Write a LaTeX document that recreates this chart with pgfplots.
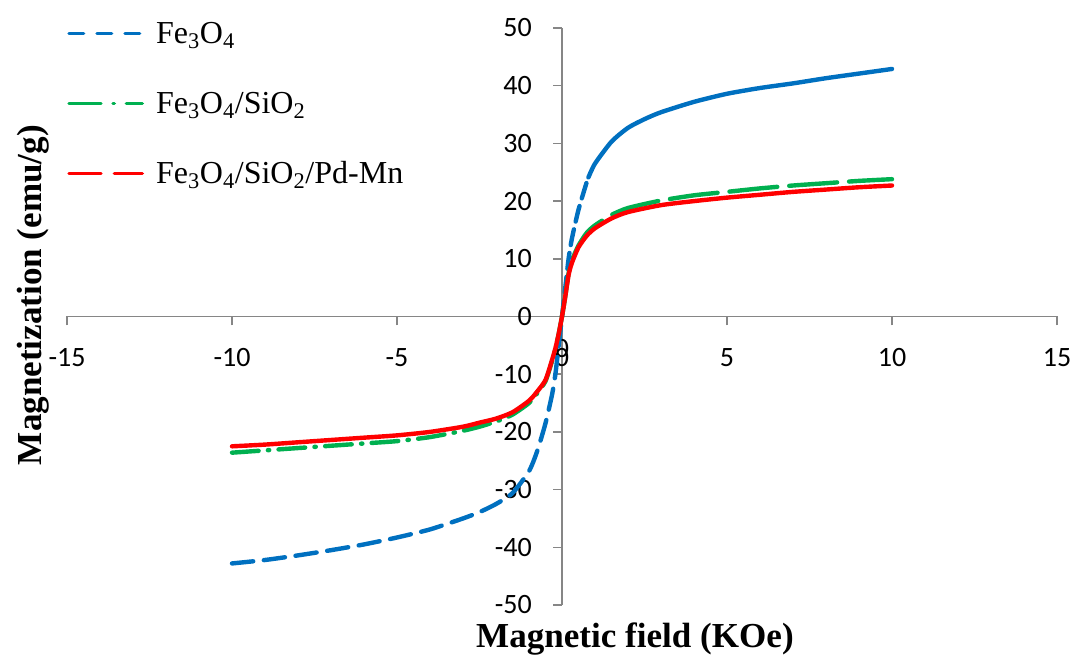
\documentclass[border=0pt]{standalone}
\usepackage{fontspec}
\setmainfont{Liberation Serif}
\newfontfamily\calibri{Carlito}
\usepackage{pgfplots}
\pgfplotsset{compat=1.18}
\definecolor{exblue}{HTML}{0070C0}
\definecolor{exgreen}{HTML}{00B050}
\definecolor{exred}{HTML}{FF0000}
\definecolor{axgray}{HTML}{868686}
\begin{document}
\begin{tikzpicture}
\useasboundingbox (-50.25pt,-39.75pt) rectangle (756pt,453.75pt);
\begin{axis}[
  at={(0pt,0pt)}, anchor=south west,
  scale only axis, width=742.5pt, height=432.75pt,
  xmin=-15, xmax=15, ymin=-50, ymax=50,
  axis lines=middle,
  hide obscured x ticks=false, hide obscured y ticks=false,
  axis line style={draw=axgray, line width=1.1pt, -},
  xtick={-15,-10,...,15}, ytick={-50,-40,...,50},
  extra x ticks={0}, extra x tick labels={0},
  extra x tick style={major tick length=0pt},
  tick align=outside,
  major tick length=6.75pt,
  tick style={draw=axgray, line width=1.1pt},
  /pgf/number format/assume math mode=true,
  ticklabel style={font=\calibri\fontsize{21}{21}\selectfont, inner sep=0pt},
  xticklabel style={anchor=north, yshift=-17pt},
  yticklabel style={anchor=east, xshift=-15.75pt},
  clip=false,
  xlabel={\bfseries Magnetic field (KOe)},
  ylabel={\bfseries Magnetization (emu/g)},
  xlabel style={font=\fontsize{26.3}{26.3}\selectfont, at={(rel axis cs:0.5737,-0.0728)}, anchor=base},
  ylabel style={font=\fontsize{26.3}{26.3}\selectfont, at={(rel axis cs:-0.02525,0.537)}, anchor=base, rotate=90},
  legend style={draw=none, fill=none, at={(rel axis cs:0,1.0156)}, anchor=north west,
    inner sep=0pt, row sep=28.5pt, column sep=9pt,
    font=\fontsize{24}{24}\selectfont,
    nodes={inner sep=0pt, text height=18pt, text depth=6pt}},
  legend cell align=left,
  every axis plot/.append style={line width=3.3pt, line cap=round, line join=round, smooth, tension=0.4},
]
% Fe3O4 negative branch (dashed)
\addplot[exblue, dash pattern=on 16pt off 8pt,
  legend image code/.code={\draw[exblue, line width=2.6pt, dash pattern=on 11pt off 10pt] (0pt,1.5pt) -- (55pt,1.5pt);}]
coordinates {(-10,-42.8) (-9,-42.2) (-8,-41.4) (-7,-40.5) (-6,-39.5) (-5,-38.3) (-4,-36.9) (-3,-35.0) (-2.5,-33.9) (-2,-32.5) (-1.5,-30.6) (-1,-26.8) (-0.75,-23.3) (-0.5,-18.5) (-0.3,-13.5) (-0.2,-10) (-0.1,-5) (0,0)};
\addlegendentry{Fe\textsubscript{3}O\textsubscript{4}}
\addplot[exblue, dash pattern=on 12pt off 6pt, forget plot]
coordinates {(0,0) (0.1,5) (0.2,10) (0.3,13.5) (0.5,18.5) (0.75,23.3) (0.8,24.1)};
\addplot[exblue, forget plot]
coordinates {(0.8,24.1) (1,26.5) (1.5,30.3) (2,32.7) (2.5,34.2) (3,35.4) (4,37.2) (5,38.6) (6,39.6) (7,40.4) (8,41.3) (9,42.1) (10,42.9)};
% Fe3O4/SiO2 negative branch (dash-dot)
\addplot[exgreen, dash pattern=on 20pt off 7pt on 1pt off 7pt,
  legend image code/.code={\draw[exgreen, line width=2.6pt, dash pattern=on 24pt off 9pt on 1pt off 9pt] (0pt,1.5pt) -- (55pt,1.5pt);}]
coordinates {(-10,-23.6) (-9,-23.2) (-8,-22.8) (-7,-22.4) (-6,-22.0) (-5,-21.6) (-4,-20.9) (-3,-19.8) (-2.5,-19.1) (-2,-18.2) (-1.5,-17.0) (-1,-15.0) (-0.75,-13.3) (-0.5,-11.2) (-0.3,-7.7) (-0.2,-5.6) (-0.1,-3) (0,0)};
\addlegendentry{Fe\textsubscript{3}O\textsubscript{4}/SiO\textsubscript{2}}
\addplot[exgreen, dash pattern=on 36pt off 9pt, forget plot]
coordinates {(0,0) (0.1,3.5) (0.2,7.5) (0.3,9.7) (0.5,12.3) (0.75,14.5) (1,15.8) (1.5,17.6) (2,18.8) (3,20.1) (4,21.0) (5,21.6) (6,22.2) (7,22.7) (8,23.1) (9,23.5) (10,23.8)};
% Fe3O4/SiO2/Pd-Mn
\addplot[exred,
  legend image code/.code={\draw[exred, line width=2.6pt, dash pattern=on 24pt off 10pt] (0pt,1.5pt) -- (55pt,1.5pt);}]
coordinates {(-10,-22.5) (-9,-22.2) (-8,-21.8) (-7,-21.4) (-6,-21.0) (-5,-20.6) (-4,-20.0) (-3,-19.1) (-2.5,-18.4) (-2,-17.7) (-1.5,-16.6) (-1,-14.6) (-0.75,-13.0) (-0.5,-11.0) (-0.3,-7.5) (-0.2,-5.5) (-0.1,-3) (0,0) (0.1,3.5) (0.2,7.2) (0.3,9.3) (0.5,12.0) (0.75,14.0) (1,15.3) (1.5,17.0) (2,18.1) (3,19.3) (4,20.0) (5,20.6) (6,21.1) (7,21.6) (8,22.0) (9,22.4) (10,22.7)};
\addlegendentry{Fe\textsubscript{3}O\textsubscript{4}/SiO\textsubscript{2}/Pd-Mn}
\end{axis}
\end{tikzpicture}
\end{document}
